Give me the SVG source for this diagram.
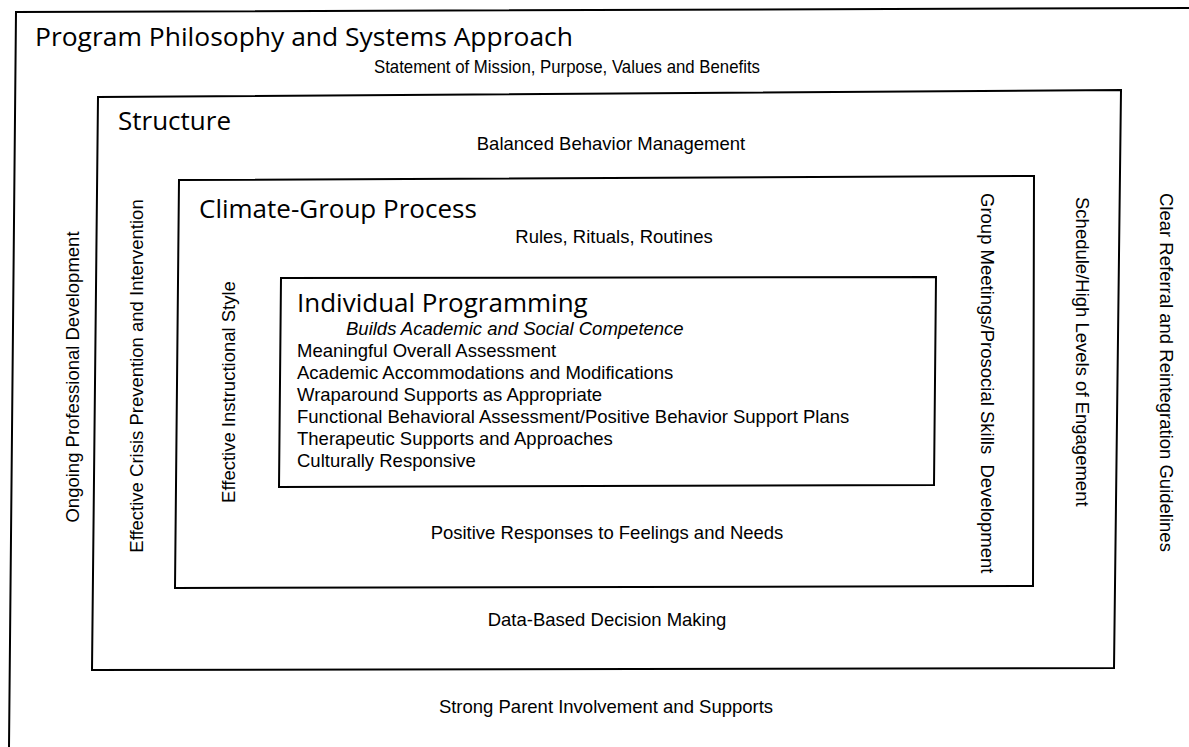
<svg xmlns="http://www.w3.org/2000/svg" width="1189" height="747" viewBox="0 0 1189 747">
  <style>
    .frame { fill: none; stroke: #000; stroke-width: 2; stroke-linejoin: miter; }
    .title { font-family: "Open Sans", "Noto Sans", sans-serif; font-size: 26px; fill: #000; }
    .item { font-family: "Liberation Sans", Arial, sans-serif; font-size: 18.5px; fill: #000; }
    .mid { text-anchor: middle; }
    .ital { font-style: italic; }
  </style>
  <rect x="0" y="0" width="1189" height="747" fill="#fff"/>

  <!-- Level 1: program philosophy (outer frame, open at right and bottom) -->
  <g id="program-philosophy">
    <path class="frame" d="M9,747 L16,12 L1189,8"/>
    <text class="title" x="35" y="46" textLength="538" lengthAdjust="spacingAndGlyphs">Program Philosophy and Systems Approach</text>
    <text class="item" x="374" y="73" textLength="386" lengthAdjust="spacingAndGlyphs">Statement of Mission, Purpose, Values and Benefits</text>
    <text class="item mid" transform="rotate(-90 79 377)" x="79" y="377">Ongoing Professional Development</text>
    <text class="item" transform="rotate(90 1160 193)" x="1160" y="193">Clear Referral and Reintegration Guidelines</text>
    <text class="item mid" x="606" y="713">Strong Parent Involvement and Supports</text>
  </g>

  <!-- Level 2: structure -->
  <g id="structure">
    <path class="frame" d="M98,97 L1121,90 L1114,668 L92,670 Z"/>
    <text class="title" x="118" y="130">Structure</text>
    <text class="item mid" x="611" y="150">Balanced Behavior Management</text>
    <text class="item mid" transform="rotate(-90 143 376)" x="143" y="376">Effective Crisis Prevention and Intervention</text>
    <text class="item" transform="rotate(90 1076 197)" x="1076" y="197">Schedule/High Levels of Engagement</text>
    <text class="item mid" x="607" y="626">Data-Based Decision Making</text>
  </g>

  <!-- Level 3: climate and group process -->
  <g id="climate-group-process">
    <path class="frame" d="M179,180 L1034,176 L1033,586 L175,588 Z"/>
    <text class="title" x="199" y="218">Climate-Group Process</text>
    <text class="item mid" x="614" y="243">Rules, Rituals, Routines</text>
    <text class="item mid" transform="rotate(-90 235 392)" x="235" y="392">Effective Instructional Style</text>
    <text class="item" transform="rotate(90 981 193)" x="981" y="193" xml:space="preserve">Group Meetings/Prosocial Skills  Development</text>
    <text class="item mid" x="607" y="539">Positive Responses to Feelings and Needs</text>
  </g>

  <!-- Level 4: individual programming -->
  <g id="individual-programming">
    <path class="frame" d="M281,278 L936,277 L934,485 L279,487 Z"/>
    <text class="title" x="297" y="312">Individual Programming</text>
    <text class="item ital" x="346" y="335">Builds Academic and Social Competence</text>
    <text class="item" x="297" y="357">Meaningful Overall Assessment</text>
    <text class="item" x="297" y="379">Academic Accommodations and Modifications</text>
    <text class="item" x="297" y="401">Wraparound Supports as Appropriate</text>
    <text class="item" x="297" y="423">Functional Behavioral Assessment/Positive Behavior Support Plans</text>
    <text class="item" x="297" y="445">Therapeutic Supports and Approaches</text>
    <text class="item" x="297" y="467">Culturally Responsive</text>
  </g>
</svg>
